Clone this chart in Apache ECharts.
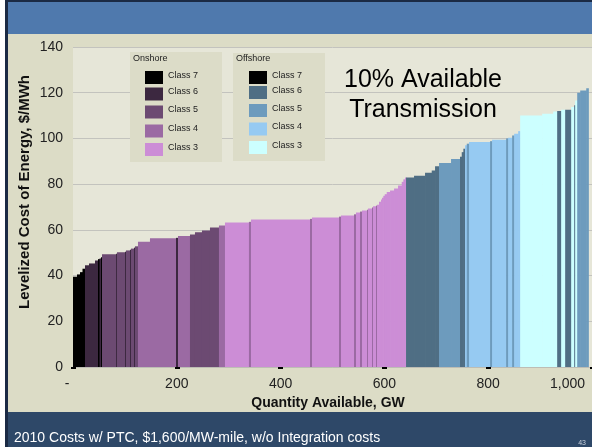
<!DOCTYPE html>
<html><head><meta charset="utf-8">
<script src="https://cdn.jsdelivr.net/npm/echarts@6/dist/echarts.min.js"></script>
<style>html,body{margin:0;padding:0;background:#fff}#c{width:592px;height:447px}</style>
</head><body><div id="c"></div>
<script>
// Supply-curve segments (capacity in GW, levelized cost in $/MWh, resource class)
const segWidths = [7.7, 5.8, 4.8, 4.8, 7.7, 11.6, 5.8, 2.9, 2.9, 1.9,
 27.0, 1.9, 15.4, 1.9, 7.7, 1.9, 5.8, 1.9, 5.8, 23.1,
 50.1, 3.9, 23.1, 9.6, 13.5, 15.4, 17.3, 11.6, 46.2, 3.9,
 113.7, 3.9, 52.0, 3.9, 25.0, 3.9, 7.7, 3.9, 9.6, 1.9,
 7.7, 1.9, 5.8, 1.9, 3.9, 3.9, 1.9, 2.5, 2.7, 3.9,
 6.4, 7.7, 7.7, 7.1, 3.1, 3.3, 1.9,
 15.4, 21.2, 12.9, 6.4, 7.7, 23.1, 17.3, 3.3, 3.1, 3.3, 3.3, 4.4, 40.5, 3.9, 27.0, 3.9, 7.7, 3.9, 7.7, 3.9,
 42.4, 21.2, 7.7, 7.7, 7.7, 11.6, 5.8, 1.9, 3.9, 5.8, 11.6, 3.9];
const segCosts = [39.5, 40.5, 41.5, 43, 44.5, 45.3, 46.6, 47.2, 47.5, 48,
 49.3, 49.5, 50.2, 50.4, 51, 51.3, 51.8, 52.2, 52.8, 54.8,
 56.3, 56.5, 57.3, 58, 58.9, 59.7, 61, 61.9, 63.2, 63.5,
 64.5, 64.8, 65.4, 65.8, 66.3, 66.8, 67.6, 68, 68.5, 68.8,
 69.3, 69.8, 70.3, 70.6, 71, 72.3, 73.3, 74, 74.9, 75.6,
 76.6, 77.2, 78.1, 79.4, 81, 82.1, 82.9,
 82.9, 83.7, 85, 86, 87.8, 89.3, 91, 92, 94, 95.5, 97, 97.7, 98.4, 98.8, 99.4, 100, 100.3, 101.3, 102, 103.2,
 110, 110.8, 111.8, 112, 112.6, 112.6, 113.8, 114.5, 116.6, 120, 121, 122];
const segClasses = ['On7','On7','On7','On7','On6','On6','On6','On7','On6','On7',
 'On5','On6','On5','On6','On5','On6','On5','On6','On5','On4',
 'On4','On6','On4','On5','On5','On5','On5','On4','On3','On4',
 'On3','On4','On3','On4','On3','On4','On3','On4','On3','On4',
 'On3','On4','On3','On4','On3','On3','On3','On3','On3','On3',
 'On3','On3','On3','On3','On3','On3','On3',
 'Off6','Off6','Off6','Off6','Off6','Off5','Off5','Off6','Off6','Off6','Off4','Off5','Off4','Off5','Off4','Off5','Off4','Off5','Off4','Off4',
 'Off3','Off3','Off3','Off6','Off3','Off6','Off3','Off6','Off3','Off5','Off5','Off5'];
const xTicks = [0, 200, 400, 600, 800, 1000];
const yTicks = [0, 20, 40, 60, 80, 100, 120, 140];
const legendClasses = ['Class 7', 'Class 6', 'Class 5', 'Class 4', 'Class 3'];
const onshoreKeys = ['On7','On6','On5','On4','On3'];
const offshoreKeys = ['Off7','Off6','Off5','Off4','Off3'];

const classColors = {
  On7:'#000000', On6:'#3c2840', On5:'#6c4a72', On4:'#9b6aa3', On3:'#cc8dd6',
  Off7:'#000000', Off6:'#4f6e84', Off5:'#6d9bbd', Off4:'#96caf2', Off3:'#ccffff'
};

const data = [];
let cum = 0;
for (let i = 0; i < segWidths.length; i++) {
  data.push([cum, cum + segWidths[i], segCosts[i], i]);
  cum += segWidths[i];
}

const FONT = 'Liberation Sans, Arial, sans-serif';
const chart = echarts.init(document.getElementById('c'), null, {renderer:'canvas'});

const graphics = [
  {type:'rect', shape:{x:0,y:0,width:592,height:447}, style:{fill:'#dcdcc6'}, z:-10, silent:true},
  {type:'rect', shape:{x:0,y:0,width:592,height:34}, style:{fill:'#4f79ad'}, z:-9},
  {type:'rect', shape:{x:0,y:0,width:592,height:2}, style:{fill:'#1b2a44'}, z:-9},
  {type:'rect', shape:{x:0,y:412,width:592,height:35}, style:{fill:'#2e4868'}, z:-9},
  {type:'rect', shape:{x:0,y:0,width:5,height:447}, style:{fill:'#ffffff'}, z:10},
  {type:'rect', shape:{x:5,y:0,width:3,height:447}, style:{fill:'#1b2a44'}, z:10},
  {type:'text', x:14, y:438, style:{text:'2010 Costs w/ PTC, $1,600/MW-mile, w/o Integration costs', font:'14px '+FONT, fill:'#ffffff', verticalAlign:'middle'}, z:10},
  {type:'text', x:586, y:443, style:{text:'43', font:'7px '+FONT, fill:'#c8d0dc', align:'right', verticalAlign:'middle'}, z:10},
  {type:'text', x:25, y:192, rotation:Math.PI/2, style:{text:'Levelized Cost of Energy, $/MWh', font:'bold 15px '+FONT, fill:'#111', align:'center', verticalAlign:'middle'}, z:10},
  {type:'text', x:328, y:403, style:{text:'Quantity Available, GW', font:'bold 14px '+FONT, fill:'#111', align:'center', verticalAlign:'middle'}, z:10},
  {type:'text', x:423, y:80, style:{text:'10% Available', font:'25px '+FONT, fill:'#000', align:'center', verticalAlign:'middle', textShadowColor:'#ffffff', textShadowOffsetX:1, textShadowOffsetY:1}, z:20},
  {type:'text', x:423, y:110, style:{text:'Transmission', font:'25px '+FONT, fill:'#000', align:'center', verticalAlign:'middle', textShadowColor:'#ffffff', textShadowOffsetX:1, textShadowOffsetY:1}, z:20},
  // legend boxes
  {type:'rect', shape:{x:130,y:52,width:92,height:110}, style:{fill:'#dcdcc8'}, z:15},
  {type:'rect', shape:{x:233,y:53,width:92,height:108}, style:{fill:'#dcdcc8'}, z:15},
  {type:'text', x:133, y:59, style:{text:'Onshore', font:'9px '+FONT, fill:'#222', verticalAlign:'middle'}, z:16},
  {type:'text', x:236, y:59, style:{text:'Offshore', font:'9px '+FONT, fill:'#222', verticalAlign:'middle'}, z:16}
];
const onRows = [77.5, 94, 112, 131, 149.5];
const offRows = [77.5, 92.5, 110.5, 129, 147.5];
legendClasses.forEach((lab, i) => {
  graphics.push({type:'rect', shape:{x:145, y:onRows[i]-6.5, width:18, height:13}, style:{fill:classColors[onshoreKeys[i]]}, z:16});
  graphics.push({type:'text', x:168, y:onRows[i]-2, style:{text:lab, font:'9px '+FONT, fill:'#222', verticalAlign:'middle'}, z:16});
  graphics.push({type:'rect', shape:{x:249, y:offRows[i]-6.5, width:18, height:13}, style:{fill:classColors[offshoreKeys[i]]}, z:16});
  graphics.push({type:'text', x:272, y:offRows[i]-2, style:{text:lab, font:'9px '+FONT, fill:'#222', verticalAlign:'middle'}, z:16});
});

chart.setOption({
  animation:false,
  backgroundColor:'#dcdcc6',
  graphic: graphics,
  grid:{left:73, right:0, top:47, bottom:80, show:true, backgroundColor:'#e6e6d8', borderWidth:0},
  xAxis:{type:'value', min:0, max:1000, interval:200,
    axisLine:{show:true, lineStyle:{color:'#bdbdb4', width:1}},
    axisTick:{show:true, length:2, lineStyle:{color:'#000', width:5}},
    splitLine:{show:false},
    axisLabel:{color:'#222', fontSize:14, fontFamily:FONT, margin:10, alignMaxLabel:'right',
      formatter:function(v){ if(v===0) return '{z|-}'; if(v===1000) return '{m|1,000}'; return String(v); },
      rich:{z:{fontSize:14, fontFamily:FONT, color:'#222', padding:[0,12,0,0]},
            m:{fontSize:14, fontFamily:FONT, color:'#222', padding:[0,7,0,0]}}}
  },
  yAxis:{type:'value', min:0, max:140, interval:20,
    axisLine:{show:false}, axisTick:{show:false},
    splitLine:{show:true, lineStyle:{color:'#c3c3be', width:1}},
    axisLabel:{color:'#222', fontSize:14, fontFamily:FONT, margin:10}
  },
  series:[{
    type:'custom',
    data:data,
    encode:{x:[0,1], y:2},
    clip:true,
    renderItem:function(params, api){
      const x0 = api.value(0), x1 = api.value(1), c = api.value(2), idx = api.value(3);
      const p0 = api.coord([x0, c]);
      const p1 = api.coord([x1, 0]);
      return {type:'rect', shape:{x:p0[0], y:p0[1], width:(p1[0]-p0[0])+0.6, height:p1[1]-p0[1]},
        style:{fill:classColors[segClasses[idx]]}};
    }
  }]
});
</script></body></html>
